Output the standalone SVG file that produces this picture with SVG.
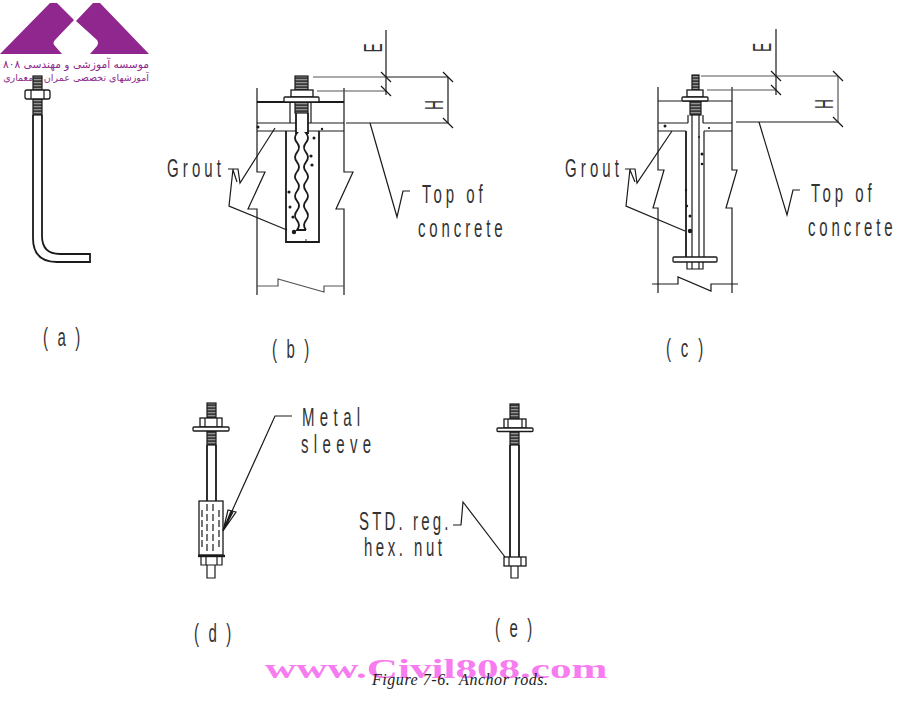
<svg xmlns="http://www.w3.org/2000/svg" width="902" height="708" viewBox="0 0 902 708">
<style>
.l{fill:none;stroke:#1a1a1a;stroke-width:1.2}
.h{fill:none;stroke:#1a1a1a;stroke-width:1.8}
.g{fill:none;stroke:#555;stroke-width:1.2}
.w{fill:#fff;stroke:#1a1a1a;stroke-width:1.3}
.t{fill:url(#thr);stroke:#1a1a1a;stroke-width:1.2}
.d{fill:#1a1a1a;stroke:none}
.c{font-family:"Liberation Sans",Arial,sans-serif;font-size:25px;fill:#333}
.fa{font-family:"DejaVu Sans",sans-serif;fill:#8e2a8c}
</style>
<defs>
<pattern id="thr" width="4" height="3" patternUnits="userSpaceOnUse"><rect width="4" height="3" fill="#3a3a3a"/><rect y="1.2" width="4" height="1" fill="#aaa"/></pattern>
<path id="tk" d="M-5-5L5 5" class="l"/>
</defs>
<rect width="902" height="708" fill="#fff"/>

<g id="logo">
<path fill="#90278e" d="M0 54L50 3H57L74 20L55 40Q52 43 55 46L62 54ZM90 54L97 46Q99 43 97 40L76 21L93 3H100L149 54Z"/>
<text class="fa" font-size="10.7" x="149" y="68" direction="rtl" text-anchor="start">موسسه آموزشی و مهندسی ۸۰۸</text>
<text class="fa" font-size="9.5" x="149" y="81" direction="rtl" text-anchor="start">آموزشهای تخصصی عمران و معماری</text>
</g>

<g id="rod-a">
<path class="h" d="M33 115V238Q33 262 57 262H90V254H60Q42 254 42 236V115"/>
<rect class="t" x="33" y="76" width="9" height="39"/>
<rect class="w" x="25" y="90" width="25" height="9" rx="2"/>
<path class="l" d="M31 90V99M44 90V99"/>
<text class="c" transform="translate(43 346) scale(.6 1)" textLength="62" lengthAdjust="spacing">( a )</text>
</g>

<g id="rod-b">
<path class="l" d="M257 88V172H265L248 209H257V295M344 88V172H353L336 209H344V295"/>
<path class="g" d="M257 286H278V279L324 292V286H344"/>
<path class="h" d="M257 102H344"/>
<path class="l" d="M257 123H296M308 123H344M257 131H296M308 131H344M290 103V123M311 103V123"/>
<path class="h" d="M286 131V242H319V131"/>
<path class="h" d="M296 113V133L297 133q-4 4.9 0 9.7t0 9.7t0 9.7t0 9.7t0 9.7t0 9.7t0 9.7t0 9.7t0 9.7t0 9.7H306M308 113V133L306 133q4 4.9 0 9.7t0 9.7t0 9.7t0 9.7t0 9.7t0 9.7t0 9.7t0 9.7t0 9.7t0 9.7"/>
<rect class="t" x="295" y="76" width="13" height="14"/>
<rect class="t" x="295" y="102" width="13" height="11"/>
<rect class="w" x="291" y="90" width="22" height="7"/>
<rect class="w" x="284" y="97" width="35" height="5" rx="1"/>
<g class="d"><circle cx="258" cy="127" r="1.5"/><circle cx="322" cy="129" r="1.2"/><circle cx="314" cy="138" r="1.5"/><circle cx="311" cy="156" r="1.6"/><circle cx="312" cy="165" r="1.6"/><circle cx="289" cy="192" r="1.6"/><circle cx="290" cy="207" r="1.5"/><circle cx="293" cy="217" r="1.6"/><circle cx="294" cy="232" r="2.2"/><circle cx="306" cy="240" r=".8"/></g>
<path class="l" d="M228 169H238L240 183L275 128M233 169L229 206L287 230M233 170L237 182"/>
<text class="c" transform="translate(167 177) scale(.6 1)" textLength="90" lengthAdjust="spacing">Grout</text>
<path class="g" d="M313 77H386M317 91H386"/>
<path class="l" d="M386 30V95M386 77H448M346 123H448M448 77V123"/>
<use href="#tk" x="386" y="77"/><use href="#tk" x="386" y="91"/><use href="#tk" x="448" y="77"/><use href="#tk" x="448" y="123"/>
<text class="c" transform="translate(382 52.5) rotate(-90) scale(.55 1)">E</text>
<text class="c" transform="translate(443 110) rotate(-90) scale(.55 1)">H</text>
<path class="l" d="M370 123L397 217L403 191H410"/>
<text class="c" transform="translate(422 203) scale(.6 1)" textLength="101" lengthAdjust="spacing">Top of</text>
<text class="c" transform="translate(418 237) scale(.6 1)" textLength="141" lengthAdjust="spacing">concrete</text>
<text class="c" transform="translate(272 358) scale(.6 1)" textLength="62" lengthAdjust="spacing">( b )</text>
</g>

<g id="rod-c">
<path class="l" d="M658 87V170H664L653 208H658V293M732 87V170H737L726 208H732V293"/>
<path class="l" d="M652 284H678V277L711 291V284H738"/>
<path class="l" d="M658 101H732M658 123H688M703 123H732M658 131H686M704 131H732"/>
<path class="h" d="M686 131V257"/>
<path class="l" d="M704 131V257M692 115V257M699 115V257M688 115V123M703 115V123"/>
<rect class="t" x="692" y="75" width="7" height="15"/>
<rect class="t" x="690" y="101" width="11" height="14"/>
<rect class="w" x="687" y="90" width="16" height="7"/>
<rect class="w" x="682" y="97" width="26" height="4" rx="1"/>
<rect class="w" x="673" y="257" width="44" height="5" rx="1"/>
<path class="l" d="M687 262V269H703V262M692 262V269M699 262V269"/>
<g class="d"><circle cx="665" cy="126" r="1.5"/><circle cx="709" cy="128" r="1.1"/><circle cx="699" cy="137" r="1"/><circle cx="702" cy="154" r="1.5"/><circle cx="702" cy="164" r="1.3"/><circle cx="686" cy="190" r="1.2"/><circle cx="687" cy="206" r="1.2"/><circle cx="690" cy="216" r="1.5"/><circle cx="690" cy="231" r="2.2"/></g>
<path class="l" d="M625 169H635L637 183L672 131M630 169L626 206L685 231M630 170L635 182"/>
<text class="c" transform="translate(565 177) scale(.6 1)" textLength="90" lengthAdjust="spacing">Grout</text>
<path class="g" d="M701 76H776M776 76H838M838 76V122M707 90H776"/>
<path class="l" d="M776 29V95M736 122H838"/>
<use href="#tk" x="776" y="76"/><use href="#tk" x="776" y="90"/><use href="#tk" x="838" y="76"/><use href="#tk" x="838" y="122"/>
<text class="c" transform="translate(771 52) rotate(-90) scale(.55 1)">E</text>
<text class="c" transform="translate(833 109) rotate(-90) scale(.55 1)">H</text>
<path class="l" d="M759 122L787 215L793 190H800"/>
<text class="c" transform="translate(811 202) scale(.6 1)" textLength="101" lengthAdjust="spacing">Top of</text>
<text class="c" transform="translate(808 236) scale(.6 1)" textLength="141" lengthAdjust="spacing">concrete</text>
<text class="c" transform="translate(666 357) scale(.6 1)" textLength="62" lengthAdjust="spacing">( c )</text>
</g>

<g id="rod-d">
<path class="h" d="M207 445V501M216 445V501"/>
<rect class="t" x="207" y="403" width="9" height="15"/>
<rect class="t" x="207" y="431" width="9" height="14"/>
<rect class="w" x="200" y="418" width="22" height="9"/>
<path class="l" d="M205 418V427M217 418V427"/>
<rect class="w" x="193" y="427" width="36" height="4" rx="1"/>
<rect class="w" x="199" y="501" width="24" height="54"/>
<path class="l" stroke-dasharray="7 3" d="M202 510V550M207 504V552M213 504V552M219 510V550"/>
<path d="M198 556H225" fill="none" stroke="#1a1a1a" stroke-width="2.4"/>
<path class="l" d="M201 557V565H222V557M206 557V565M217 557V565M207 565V578H215V565"/>
<path class="l" d="M292 416H275L223 531M223 531L228 510L236 512ZM223 531L231 511M223 531L233 512"/>
<text class="c" transform="translate(302 426) scale(.6 1)" textLength="97" lengthAdjust="spacing">Metal</text>
<text class="c" transform="translate(301 453) scale(.6 1)" textLength="117" lengthAdjust="spacing">sleeve</text>
<text class="c" transform="translate(194 642) scale(.6 1)" textLength="62" lengthAdjust="spacing">( d )</text>
</g>

<g id="rod-e">
<path class="h" d="M510 445V557M519 445V557"/>
<rect class="t" x="510" y="404" width="9" height="15"/>
<rect class="t" x="510" y="431" width="9" height="14"/>
<rect class="w" x="504" y="419" width="22" height="9"/>
<path class="l" d="M508 419V428M522 419V428"/>
<rect class="w" x="497" y="428" width="36" height="3.5" rx="1"/>
<rect class="w" x="504" y="557" width="22" height="9"/>
<path class="l" d="M509 557V566M521 557V566M511 566V578H518V566"/>
<path class="l" d="M453 525H461L463 502L505 557"/>
<text class="c" transform="translate(359 530) scale(.6 1)" textLength="149" lengthAdjust="spacing">STD. reg.</text>
<text class="c" transform="translate(364 556) scale(.6 1)" textLength="130" lengthAdjust="spacing">hex. nut</text>
<text class="c" transform="translate(495 637) scale(.6 1)" textLength="62" lengthAdjust="spacing">( e )</text>
</g>

<text id="site" transform="translate(265 678) scale(1.54 1)" font-family="Liberation Serif,serif" font-weight="700" font-size="28" fill="#f77cf0">www.Civil808.com</text>
<text id="caption" x="372" y="685" font-family="Liberation Serif,serif" font-style="italic" font-size="16" fill="#222" xml:space="preserve" textLength="176" lengthAdjust="spacing">Figure 7-6.  Anchor rods.</text>
</svg>
